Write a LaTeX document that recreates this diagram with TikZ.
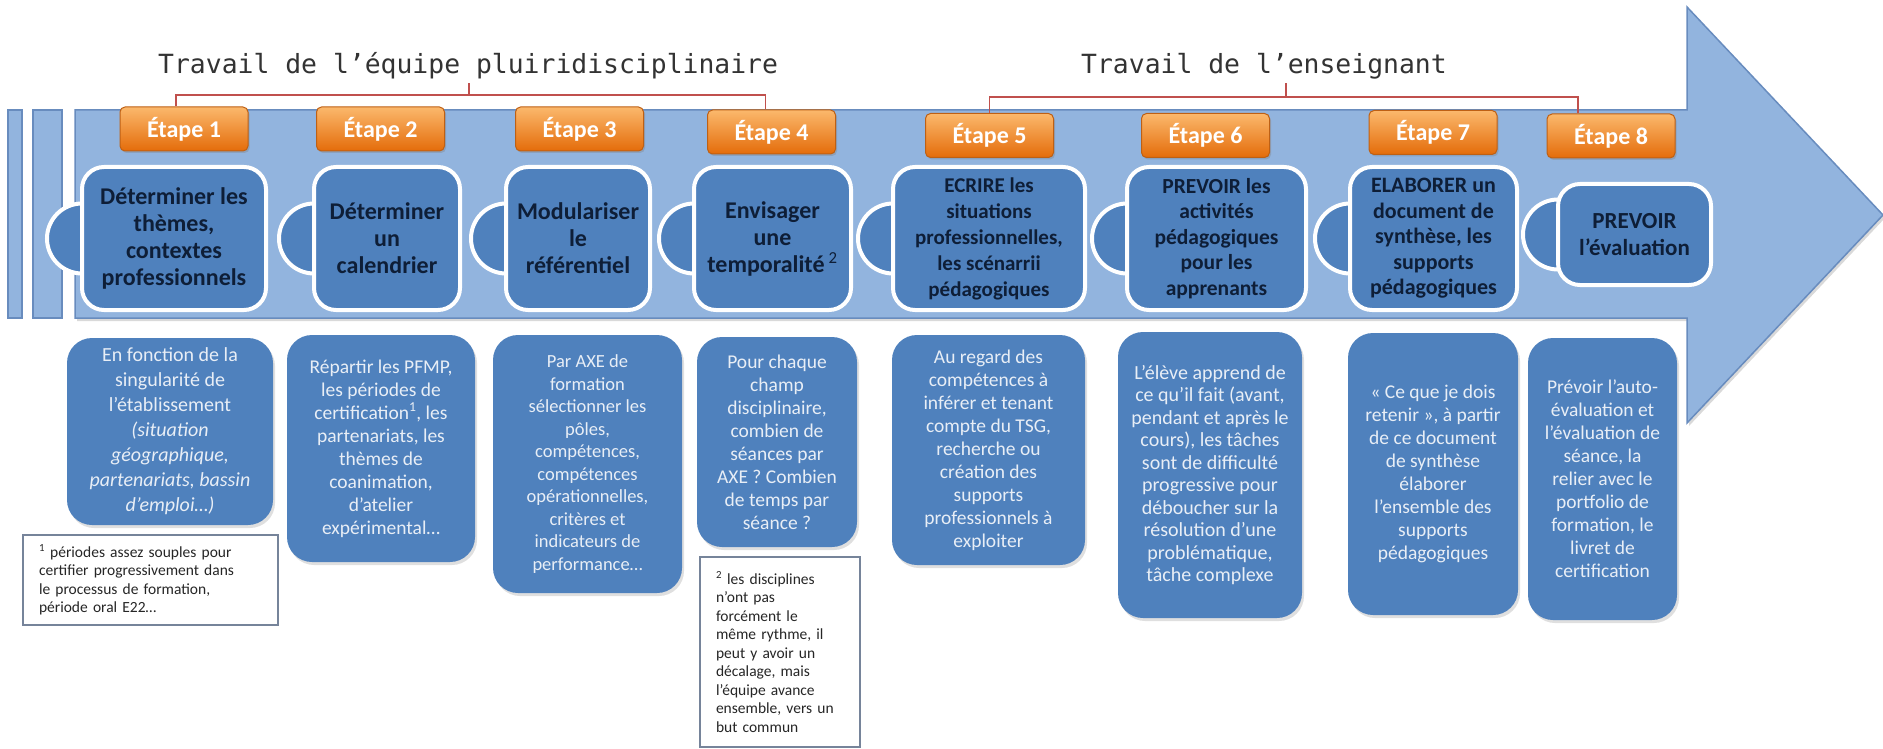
\documentclass[tikz,border=0pt]{standalone}
\usepackage{fontspec}
\setmainfont{Carlito}
\newfontfamily\titlefont{DejaVu Sans Mono}
\usetikzlibrary{shadows}

\definecolor{flowblue}{RGB}{146,180,222}
\definecolor{flowedge}{RGB}{104,140,190}
\definecolor{cardblue}{RGB}{79,129,189}
\definecolor{cardtext}{RGB}{14,30,55}
\definecolor{notetext}{RGB}{232,238,246}
\definecolor{stepa}{RGB}{251,184,108}
\definecolor{stepb}{RGB}{228,108,10}
\definecolor{stepedge}{RGB}{190,96,20}
\definecolor{linkred}{RGB}{192,80,77}
\definecolor{footedge}{RGB}{118,132,154}

\begin{document}
\begin{tikzpicture}[x=1pt,y=-1pt]
\useasboundingbox (0,0) rectangle (1883,749);
{
  \tikzstyle{flowarrow}=[fill=flowblue,draw=flowedge,line width=1.5pt]
  \tikzstyle{etape}=[rectangle,rounded corners=5pt,draw=stepedge,line width=1pt,
  top color=stepa,bottom color=stepb,text=white,inner sep=0pt,
  font=\fontsize{24}{28}\selectfont\bfseries,minimum width=128pt,minimum height=44pt,
  drop shadow={opacity=0.35,shadow xshift=1.5pt,shadow yshift=-2pt}]
  \tikzstyle{task}=[rectangle,rounded corners=22pt,draw=white,line width=4pt,fill=cardblue,
  text=cardtext,align=center,inner sep=0pt,font=\fontsize{24}{27}\selectfont\bfseries]
  \tikzstyle{tab}=[circle,draw=white,line width=4pt,fill=cardblue,minimum size=70pt,inner sep=0pt]
  \tikzstyle{detail}=[rectangle,rounded corners=25pt,fill=cardblue,text=notetext,
  align=center,inner sep=0pt,font=\fontsize{19.5}{23}\selectfont,
  drop shadow={opacity=0.25,shadow xshift=2pt,shadow yshift=-3pt}]
  \tikzstyle{footnote}=[rectangle,draw=footedge,line width=1.5pt,fill=white,text=black!85,
  align=left,inner xsep=16pt,inner ysep=0pt,font=\fontsize{15.5}{18.5}\selectfont]
  \tikzstyle{bracket}=[draw=linkred,line width=1.5pt]
  \tikzstyle{heading}=[anchor=west,inner sep=0pt,text=black!80,
  font=\titlefont\fontsize{26.4}{30}\selectfont]

  % arrow
  \draw [flowarrow,drop shadow={opacity=0.3,shadow xshift=2pt,shadow yshift=-3pt}]
    (75,110) -- (1687,110) -- (1687,7) -- (1883,215) -- (1687,423) -- (1687,318) -- (75,318) -- cycle;
  \draw [flowarrow] (8,110) rectangle (22,318);
  \draw [flowarrow] (33,110) rectangle (62,318);

  % tabs
  \node [tab] (c1) at (82,238.5)   {};
  \node [tab] (c2) at (314,238.5)  {};
  \node [tab] (c3) at (506,238.5)  {};
  \node [tab] (c4) at (694,238.5)  {};
  \node [tab] (c5) at (893,238.5)  {};
  \node [tab] (c6) at (1127,238.5) {};
  \node [tab] (c7) at (1350,238.5) {};
  \node [tab] (c8) at (1558,234.5) {};

  % top boxes
  \node [task,minimum width=184pt,minimum height=143pt] (t1) at (174,238.5)  {Déterminer les\\thèmes,\\contextes\\professionnels};
  \node [task,minimum width=146pt,minimum height=143pt] (t2) at (387,238.5)  {Déterminer\\un\\calendrier};
  \node [task,minimum width=144pt,minimum height=143pt] (t3) at (578,238.5)  {Modulariser\\le\\référentiel};
  \node [task,minimum width=157pt,minimum height=143pt] (t4) at (772.5,238.5) {Envisager\\une\\temporalité\,\textsuperscript{\normalfont 2}};
  \node [task,minimum width=192pt,minimum height=143pt,font=\fontsize{21}{26}\selectfont\bfseries] (t5) at (989,238.5)
    {ECRIRE les\\situations\\professionnelles,\\les scénarrii\\pédagogiques};
  \node [task,minimum width=179pt,minimum height=143pt,font=\fontsize{21.5}{25.5}\selectfont\bfseries] (t6) at (1216.5,238.5)
    {PREVOIR les\\activités\\pédagogiques\\pour les\\apprenants};
  \node [task,minimum width=167pt,minimum height=143pt,font=\fontsize{22}{25.5}\selectfont\bfseries] (t7) at (1433.5,238.5)
    {ELABORER un\\document de\\synthèse, les\\supports\\pédagogiques};
  \node [task,minimum width=153pt,minimum height=101pt,font=\fontsize{23}{27}\selectfont\bfseries] (t8) at (1634.5,234.5)
    {PREVOIR\\l’évaluation};

  % steps
  \node [etape] (e1) at (184,129)    {Étape 1};
  \node [etape] (e2) at (380.5,129)  {Étape 2};
  \node [etape] (e3) at (579.5,129)  {Étape 3};
  \node [etape] (e4) at (771.5,132)  {Étape 4};
  \node [etape] (e5) at (989.5,135.5) {Étape 5};
  \node [etape] (e6) at (1205.5,135.5) {Étape 6};
  \node [etape] (e7) at (1433,132.5) {Étape 7};
  \node [etape] (e8) at (1611,136)   {Étape 8};

  % headings and brackets
  \node [heading] (h1) at (158,66)  {Travail de l’équipe pluiridisciplinaire};
  \node [heading] (h2) at (1081,66) {Travail de l’enseignant};
  \coordinate (k1) at (469,95);
  \coordinate (k1top) at (469,83);
  \coordinate (k2) at (1286,97);
  \coordinate (k2top) at (1286,83);
  \draw [bracket] ([xshift=-8pt]e1.north) |- (k1) -| ([xshift=-6pt]e4.north);
  \draw [bracket] (k1) -- (k1top);
  \draw [bracket] (e5.north) |- (k2) -| ([xshift=-33pt]e8.north);
  \draw [bracket] (k2) -- (k2top);

  % bottom boxes
  \node [detail,minimum width=206pt,minimum height=187pt,font=\fontsize{20}{25}\selectfont] (d1) at (170,431.5)
    {En fonction de la\\singularité de\\l’établissement\\\textit{(situation}\\\textit{géographique,}\\\textit{partenariats, bassin}\\\textit{d’emploi…)}};
  \node [detail,minimum width=188pt,minimum height=227pt] (d2) at (381,448.5)
    {Répartir les PFMP,\\les périodes de\\certification\textsuperscript{1}, les\\partenariats, les\\thèmes de\\coanimation,\\d’atelier\\expérimental…};
  \node [detail,minimum width=189pt,minimum height=258pt,font=\fontsize{18.5}{22.5}\selectfont] (d3) at (587.5,464)
    {Par AXE de\\formation\\sélectionner les\\pôles,\\compétences,\\compétences\\opérationnelles,\\critères et\\indicateurs de\\performance…};
  \node [detail,minimum width=160pt,minimum height=210pt] (d4) at (777,442)
    {Pour chaque\\champ\\disciplinaire,\\combien de\\séances par\\AXE ? Combien\\de temps par\\séance ?};
  \node [detail,minimum width=193pt,minimum height=230pt] (d5) at (988.5,450)
    {Au regard des\\compétences à\\inférer et tenant\\compte du TSG,\\recherche ou\\création des\\supports\\professionnels à\\exploiter};
  \node [detail,minimum width=184pt,minimum height=286pt,font=\fontsize{20}{22.5}\selectfont] (d6) at (1210,475)
    {L’élève apprend de\\ce qu’il fait (avant,\\pendant et après le\\cours), les tâches\\sont de difficulté\\progressive pour\\déboucher sur la\\résolution d’une\\problématique,\\tâche complexe};
  \node [detail,minimum width=170pt,minimum height=282pt] (d7) at (1433,474)
    {« Ce que je dois\\retenir », à partir\\de ce document\\de synthèse\\élaborer\\l’ensemble des\\supports\\pédagogiques};
  \node [detail,minimum width=149pt,minimum height=282pt] (d8) at (1602.5,479)
    {Prévoir l’auto-\\évaluation et\\l’évaluation de\\séance, la\\relier avec le\\portfolio de\\formation, le\\livret de\\certification};

  % footnotes
  \node [footnote,text width=223pt,minimum height=90pt] (f1) at (150.5,580)
    {\textsuperscript{1} périodes assez souples pour\\certifier progressivement dans\\le processus de formation,\\période oral E22…};
  \node [footnote,text width=128pt,minimum height=190pt] (f2) at (780,652)
    {\textsuperscript{2} les disciplines\\n’ont pas\\forcément le\\même rythme, il\\peut y avoir un\\décalage, mais\\l’équipe avance\\ensemble, vers un\\but commun};
}
\end{tikzpicture}
\end{document}
